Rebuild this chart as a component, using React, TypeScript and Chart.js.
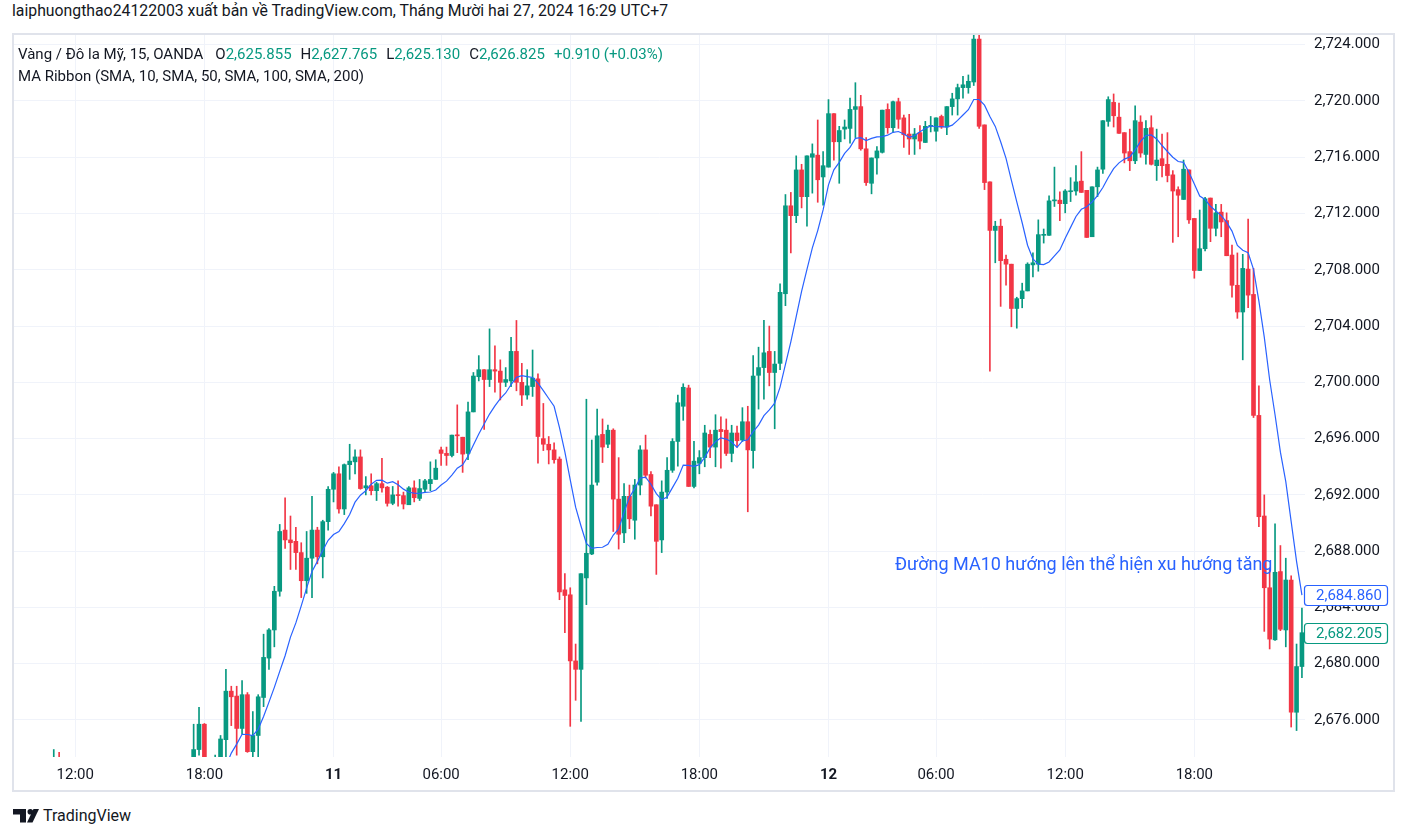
import React, { useEffect, useRef } from 'react';
import { Chart, registerables } from 'chart.js';

Chart.register(...registerables);

// XAU/USD 15-minute candles, each row: [open, high, low, close]
// Dec 10, 09:15 -> 23:45
const DEC10_BARS: number[][] = [
  [2666.0, 2667.5, 2665.2, 2667.0],
  [2667.0, 2668.8, 2666.4, 2668.2],
  [2668.2, 2669.5, 2667.3, 2667.8],
  [2667.8, 2670.2, 2667.0, 2669.6],
  [2669.6, 2671.0, 2668.8, 2670.3],
  [2670.3, 2671.8, 2669.5, 2671.0],
  [2671.0, 2672.6, 2670.2, 2671.4],
  [2671.4, 2673.9, 2670.8, 2672.6],
  [2672.6, 2673.7, 2670.6, 2671.2],
  [2671.2, 2672.4, 2669.8, 2670.2],
  [2670.2, 2671.1, 2668.9, 2669.5],
  [2669.5, 2670.8, 2668.2, 2670.1],
  [2670.1, 2671.3, 2669.0, 2669.4],
  [2669.4, 2670.0, 2667.6, 2668.3],
  [2668.3, 2669.4, 2667.2, 2668.9],
  [2668.9, 2670.2, 2668.0, 2669.6],
  [2669.6, 2670.9, 2668.7, 2669.0],
  [2669.0, 2669.8, 2667.5, 2667.9],
  [2667.9, 2668.8, 2666.6, 2667.2],
  [2667.2, 2668.5, 2666.0, 2668.0],
  [2668.0, 2669.3, 2667.1, 2668.6],
  [2668.6, 2669.9, 2667.8, 2669.2],
  [2669.2, 2670.4, 2668.1, 2668.5],
  [2668.5, 2669.6, 2667.0, 2667.6],
  [2667.6, 2668.7, 2666.5, 2668.1],
  [2668.1, 2669.8, 2667.4, 2669.3],
  [2669.3, 2670.6, 2668.4, 2669.9],
  [2669.9, 2671.2, 2668.9, 2670.4],
  [2670.4, 2671.6, 2669.3, 2669.8],
  [2669.8, 2670.9, 2668.6, 2669.1],
  [2669.1, 2670.2, 2667.9, 2668.6],
  [2668.6, 2669.8, 2668.1, 2669.0],
  [2669.0, 2671.2, 2668.7, 2670.8],
  [2670.8, 2675.7, 2670.5, 2673.9],
  [2673.9, 2676.9, 2673.5, 2675.7],
  [2675.7, 2675.75, 2672.6, 2673.0],
  [2673.0, 2673.3, 2671.2, 2671.5],
  [2671.5, 2673.5, 2671.0, 2672.2],
  [2672.2, 2674.9, 2672.0, 2674.65],
  [2674.6, 2679.6, 2673.0, 2678.05],
  [2678.05, 2678.4, 2675.6, 2677.65],
  [2677.7, 2678.4, 2673.5, 2675.4],
  [2675.4, 2678.8, 2675.0, 2677.8],
  [2677.8, 2677.95, 2673.7, 2673.75],
  [2673.75, 2676.6, 2673.1, 2674.9],
  [2674.9, 2677.8, 2673.2, 2677.65],
  [2677.6, 2682.1, 2676.95, 2680.45],
  [2680.4, 2682.5, 2679.6, 2682.4],
  [2682.4, 2685.5, 2681.2, 2685.15],
  [2685.15, 2689.9, 2684.8, 2689.4],
  [2689.5, 2691.8, 2688.2, 2688.8],
  [2688.8, 2690.5, 2686.7, 2688.6],
  [2688.7, 2689.7, 2686.7, 2687.9],
  [2687.9, 2688.6, 2684.7, 2685.9],
  [2685.9, 2689.4, 2685.0, 2687.5],
  [2687.5, 2691.9, 2684.7, 2689.5],
  [2689.5, 2689.7, 2687.1, 2687.6],
  [2687.6, 2690.2, 2686.1, 2690.1],
  [2690.1, 2692.6, 2689.5, 2692.4],
];

// Dec 11, 00:00 -> 04:45, 06:00 -> 23:45
const DEC11_BARS: number[][] = [
  [2692.4, 2693.6, 2691.5, 2693.5],
  [2693.5, 2694.0, 2690.7, 2691.0],
  [2691.0, 2694.2, 2690.6, 2694.15],
  [2694.15, 2695.6, 2693.1, 2694.4],
  [2694.35, 2695.2, 2693.5, 2694.7],
  [2694.7, 2695.2, 2692.4, 2692.45],
  [2692.5, 2693.3, 2692.0, 2692.65],
  [2692.65, 2693.5, 2692.0, 2692.3],
  [2692.3, 2692.9, 2691.6, 2692.8],
  [2692.8, 2694.6, 2692.2, 2692.5],
  [2692.55, 2692.6, 2691.2, 2691.4],
  [2691.4, 2692.6, 2691.3, 2692.0],
  [2692.0, 2693.0, 2691.2, 2691.95],
  [2691.95, 2692.2, 2691.0, 2691.35],
  [2691.3, 2692.6, 2691.3, 2692.5],
  [2692.5, 2693.0, 2691.5, 2691.8],
  [2691.75, 2693.1, 2691.6, 2692.45],
  [2692.4, 2693.1, 2692.2, 2693.0],
  [2692.8, 2694.35, 2692.3, 2693.1],
  [2693.1, 2694.5, 2693.1, 2693.9],
  [2695.2, 2695.4, 2694.1, 2694.95],
  [2694.95, 2695.4, 2694.1, 2694.8],
  [2694.8, 2696.25, 2694.7, 2696.25],
  [2696.25, 2698.4, 2695.0, 2696.2],
  [2696.1, 2696.1, 2693.6, 2694.9],
  [2694.95, 2698.6, 2694.5, 2697.9],
  [2697.9, 2700.7, 2697.9, 2700.45],
  [2700.4, 2701.9, 2700.1, 2700.9],
  [2700.9, 2700.9, 2696.65, 2700.2],
  [2700.2, 2703.8, 2699.7, 2700.9],
  [2700.9, 2702.6, 2699.3, 2700.8],
  [2700.8, 2701.6, 2698.75, 2700.0],
  [2700.0, 2701.05, 2699.7, 2700.2],
  [2700.1, 2703.2, 2699.7, 2702.2],
  [2702.2, 2704.4, 2699.4, 2700.0],
  [2700.0, 2701.35, 2698.35, 2699.1],
  [2699.1, 2700.9, 2698.8, 2699.75],
  [2699.7, 2702.3, 2699.0, 2700.3],
  [2700.25, 2700.6, 2694.25, 2696.15],
  [2696.0, 2698.5, 2695.15, 2695.6],
  [2695.6, 2696.15, 2694.2, 2695.2],
  [2695.2, 2695.7, 2694.25, 2694.5],
  [2694.55, 2694.7, 2684.55, 2685.1],
  [2685.25, 2686.4, 2682.2, 2684.85],
  [2684.9, 2685.4, 2675.55, 2680.2],
  [2680.2, 2681.4, 2677.4, 2679.6],
  [2679.6, 2686.4, 2675.9, 2686.4],
  [2686.1, 2698.8, 2684.2, 2687.85],
  [2687.8, 2695.9, 2687.75, 2692.7],
  [2692.9, 2698.1, 2692.7, 2696.2],
  [2696.3, 2697.4, 2694.3, 2695.4],
  [2695.6, 2696.97, 2695.35, 2696.6],
  [2696.6, 2696.7, 2689.4, 2691.7],
  [2691.7, 2694.65, 2688.15, 2689.2],
  [2689.3, 2692.8, 2688.6, 2691.9],
  [2691.9, 2692.7, 2689.6, 2690.3],
  [2690.2, 2693.1, 2688.85, 2692.7],
  [2692.7, 2695.5, 2692.0, 2695.2],
  [2695.2, 2696.25, 2693.2, 2693.4],
  [2693.45, 2693.65, 2690.5, 2691.2],
  [2691.3, 2691.3, 2686.35, 2688.7],
  [2688.8, 2693.0, 2687.9, 2692.2],
  [2692.2, 2694.65, 2691.75, 2693.75],
  [2693.75, 2696.0, 2693.6, 2695.8],
  [2695.8, 2699.1, 2694.05, 2698.55],
  [2698.3, 2699.9, 2697.3, 2699.65],
  [2699.6, 2699.8, 2692.6, 2692.6],
  [2692.6, 2695.8, 2692.5, 2694.4],
  [2694.25, 2695.15, 2693.5, 2694.65],
  [2694.65, 2696.95, 2694.0, 2696.4],
  [2696.3, 2696.6, 2694.65, 2695.4],
  [2695.4, 2697.7, 2694.0, 2696.6],
  [2696.65, 2697.55, 2693.9, 2696.5],
  [2696.6, 2697.4, 2694.8, 2694.95],
  [2694.95, 2696.95, 2694.35, 2696.4],
  [2696.4, 2696.9, 2695.4, 2695.85],
  [2695.9, 2698.2, 2695.8, 2697.2],
  [2697.2, 2698.3, 2690.8, 2695.2],
  [2695.15, 2701.9, 2693.9, 2700.45],
  [2700.5, 2702.5, 2698.1, 2701.05],
  [2701.05, 2704.4, 2698.8, 2702.1],
  [2702.2, 2704.0, 2699.75, 2700.7],
  [2700.7, 2702.2, 2696.7, 2701.3],
  [2701.35, 2707.0, 2700.9, 2706.4],
  [2706.3, 2713.35, 2705.45, 2712.55],
  [2712.55, 2713.5, 2709.2, 2711.85],
  [2711.85, 2716.1, 2711.35, 2715.1],
  [2715.1, 2715.5, 2712.4, 2713.2],
  [2713.2, 2716.1, 2711.1, 2716.1],
  [2716.0, 2716.95, 2713.45, 2716.25],
  [2716.15, 2718.65, 2712.8, 2714.4],
  [2714.6, 2716.4, 2712.6, 2715.4],
];

// Dec 12, 00:00 -> 04:45, 06:00 -> 23:00
const DEC12_BARS: number[][] = [
  [2715.3, 2720.1, 2715.3, 2719.1],
  [2719.1, 2719.1, 2715.8, 2717.1],
  [2717.1, 2718.2, 2714.15, 2717.9],
  [2718.0, 2718.65, 2717.3, 2718.15],
  [2718.05, 2720.2, 2717.0, 2719.4],
  [2719.4, 2721.3, 2717.4, 2719.6],
  [2719.6, 2720.4, 2716.5, 2716.6],
  [2716.6, 2717.4, 2714.0, 2714.2],
  [2714.15, 2715.95, 2713.4, 2715.95],
  [2715.95, 2716.75, 2714.8, 2716.45],
  [2716.35, 2719.35, 2716.3, 2719.35],
  [2719.4, 2719.8, 2717.7, 2718.1],
  [2718.1, 2720.0, 2717.8, 2719.95],
  [2719.95, 2720.2, 2718.05, 2718.7],
  [2718.8, 2719.0, 2716.7, 2717.6],
  [2717.65, 2719.05, 2716.2, 2717.3],
  [2717.3, 2718.05, 2716.2, 2717.65],
  [2717.75, 2718.25, 2716.6, 2717.15],
  [2717.05, 2718.55, 2717.05, 2718.2],
  [2718.2, 2718.9, 2717.8, 2718.25],
  [2717.85, 2718.8, 2717.15, 2718.8],
  [2718.9, 2719.0, 2718.05, 2718.15],
  [2718.15, 2719.6, 2717.6, 2719.6],
  [2719.6, 2720.55, 2719.0, 2720.15],
  [2720.15, 2721.2, 2719.0, 2720.95],
  [2720.95, 2721.75, 2720.2, 2721.15],
  [2720.95, 2721.85, 2720.55, 2721.4],
  [2721.35, 2724.7, 2721.1, 2724.4],
  [2724.4, 2724.8, 2718.05, 2718.2],
  [2718.3, 2718.3, 2713.7, 2714.2],
  [2714.25, 2714.25, 2700.8, 2710.8],
  [2710.8, 2711.45, 2708.5, 2711.1],
  [2711.1, 2711.6, 2705.4, 2708.65],
  [2708.75, 2709.05, 2706.9, 2708.4],
  [2708.4, 2708.4, 2703.95, 2705.25],
  [2705.25, 2706.05, 2703.85, 2705.95],
  [2705.95, 2707.05, 2705.3, 2706.5],
  [2706.5, 2708.5, 2706.5, 2708.4],
  [2708.35, 2709.2, 2707.5, 2708.5],
  [2708.4, 2711.55, 2707.9, 2710.5],
  [2710.45, 2710.9, 2709.9, 2710.5],
  [2710.45, 2713.25, 2710.45, 2712.9],
  [2712.9, 2715.3, 2712.5, 2712.95],
  [2712.95, 2713.55, 2711.5, 2712.7],
  [2712.7, 2713.7, 2712.05, 2713.6],
  [2713.55, 2714.55, 2712.85, 2713.6],
  [2713.6, 2715.4, 2713.3, 2714.25],
  [2714.3, 2716.4, 2713.5, 2713.5],
  [2713.65, 2713.65, 2710.3, 2710.3],
  [2710.35, 2713.9, 2710.35, 2713.9],
  [2713.9, 2715.3, 2713.2, 2715.1],
  [2715.15, 2718.6, 2714.85, 2718.6],
  [2718.55, 2720.3, 2718.2, 2720.1],
  [2719.9, 2720.5, 2718.15, 2718.95],
  [2718.85, 2719.85, 2717.7, 2717.7],
  [2717.75, 2717.75, 2715.6, 2716.3],
  [2716.4, 2718.0, 2715.05, 2715.75],
  [2715.75, 2719.65, 2715.55, 2718.6],
  [2718.5, 2718.95, 2716.0, 2716.3],
  [2716.2, 2718.6, 2715.5, 2718.05],
  [2718.1, 2718.95, 2715.45, 2715.5],
  [2715.4, 2718.0, 2714.35, 2715.8],
  [2715.9, 2717.65, 2714.6, 2715.4],
  [2715.5, 2717.75, 2714.25, 2714.7],
  [2714.75, 2715.05, 2709.95, 2713.6],
  [2713.7, 2713.9, 2710.35, 2713.3],
  [2713.0, 2715.8, 2713.0, 2715.15],
  [2715.1, 2715.1, 2711.3, 2711.55],
  [2711.65, 2711.65, 2707.4, 2707.95],
  [2707.95, 2712.25, 2707.95, 2709.5],
  [2709.5, 2713.15, 2709.35, 2713.05],
  [2713.1, 2713.1, 2710.0, 2710.95],
  [2710.95, 2712.65, 2710.4, 2712.05],
  [2712.1, 2712.65, 2710.35, 2711.4],
  [2711.5, 2712.05, 2709.0, 2709.0],
  [2709.05, 2709.75, 2706.05, 2706.9],
  [2706.9, 2709.2, 2704.55, 2705.0],
  [2705.0, 2709.1, 2701.6, 2708.1],
  [2708.05, 2711.6, 2705.3, 2706.2],
  [2706.25, 2708.1, 2697.5, 2697.65],
  [2697.65, 2699.75, 2689.75, 2690.45],
  [2690.5, 2692.0, 2682.3, 2685.4],
  [2685.4, 2686.8, 2681.05, 2681.75],
  [2681.7, 2689.95, 2681.65, 2686.5],
  [2686.55, 2688.4, 2682.35, 2682.45],
  [2682.4, 2687.5, 2681.2, 2685.95],
  [2685.95, 2686.25, 2675.5, 2676.55],
  [2676.55, 2681.4, 2675.25, 2679.8],
  [2679.8, 2683.95, 2679.0, 2682.205],
];

// x-axis tick labels and the bar index they sit on
const TICK_INDEX = [11, 35, 59, 79, 103, 127, 151, 171, 195, 219];
const TICK_LABELS = ['12:00', '18:00', '11', '06:00', '12:00', '18:00', '12', '06:00', '12:00', '18:00'];
const DAY_LABELS = ['11', '12'];

// y-axis
const Y_TICKS = [2676, 2680, 2684, 2688, 2692, 2696, 2700, 2704, 2708, 2712, 2716, 2720, 2724];
const Y_MIN = 2673.37;
const Y_MAX = 2724.69;
const X_MIN = -0.39;
const X_MAX = 239.57;

const MA_PERIOD = 10;
const MA_LAST = 2684.86;

// legend texts
const SYMBOL_TITLE = 'Vàng / Đô la Mỹ, 15, OANDA';
const LEGEND_KEYS = ['O', 'H', 'L', 'C'];
const LEGEND_VALUES = ['2,625.855', '2,627.765', '2,625.130', '2,626.825'];
const LEGEND_CHANGE = '+0.910 (+0.03%)';
const INDICATOR_TITLE = 'MA Ribbon (SMA, 10, SMA, 50, SMA, 100, SMA, 200)';
const HEADER = 'laiphuongthao24122003 xuất bản về TradingView.com, Tháng Mười hai 27, 2024 16:29 UTC+7';
const NOTE = 'Đường MA10 hướng lên thể hiện xu hướng tăng';

const UP = '#089981';
const DOWN = '#F23645';
const BLUE = '#2962FF';
const TEXT = '#131722';
const GRID = '#F0F3FA';
const FONT = 'Roboto, "Noto Sans", "DejaVu Sans", sans-serif';

const BARS = [...DEC10_BARS, ...DEC11_BARS, ...DEC12_BARS];
const CLOSES = BARS.map((b) => b[3]);

const fmtPrice = (v: number) =>
  v.toLocaleString('en-US', { minimumFractionDigits: 3, maximumFractionDigits: 3 });

function buildMA(): { x: number; y: number }[] {
  const out: { x: number; y: number }[] = [];
  for (let i = MA_PERIOD - 1; i < CLOSES.length; i++) {
    let s = 0;
    for (let k = i - MA_PERIOD + 1; k <= i; k++) s += CLOSES[k];
    out.push({ x: i, y: s / MA_PERIOD });
  }
  return out;
}

const PRICE_TAGS = [
  { value: MA_LAST, color: BLUE },
  { value: CLOSES[CLOSES.length - 1], color: UP },
];

const priceTagPlugin = {
  id: 'priceTags',
  afterDraw(chart: any) {
    const { ctx, chartArea, scales } = chart;
    const y = scales.y;
    PRICE_TAGS.forEach((tag) => {
      const py = Math.round(y.getPixelForValue(tag.value));
      const x = Math.round(chartArea.right) - 0.5;
      const w = 83;
      const h = 20;
      ctx.save();
      ctx.beginPath();
      ctx.roundRect(x, py - h / 2 + 0.5, w, h, 3);
      ctx.fillStyle = '#ffffff';
      ctx.fill();
      ctx.lineWidth = 1.2;
      ctx.strokeStyle = tag.color;
      ctx.stroke();
      ctx.fillStyle = tag.color;
      ctx.font = `15px ${FONT}`;
      ctx.textBaseline = 'middle';
      ctx.textAlign = 'left';
      ctx.fillText(fmtPrice(tag.value), x + 11.5, py + 1);
      ctx.restore();
    });
  },
};

export default function App() {
  const ref = useRef<HTMLCanvasElement | null>(null);

  useEffect(() => {
    if (!ref.current) return;
    const colors = BARS.map((b) => (b[3] >= b[0] ? UP : DOWN));
    const bodies = BARS.map((b, i) => ({ x: i, y: [Math.min(b[0], b[3]), Math.max(b[0], b[3])] }));
    const wicks = BARS.map((b, i) => ({ x: i, y: [b[2], b[1]] }));
    const chart = new Chart(ref.current, {
      type: 'bar',
      data: {
        datasets: [
          {
            type: 'line',
            data: buildMA(),
            borderColor: BLUE,
            borderWidth: 1.2,
            pointRadius: 0,
            tension: 0,
            order: 0,
          } as any,
          {
            type: 'bar',
            data: bodies as any,
            backgroundColor: colors,
            borderWidth: 0,
            barThickness: 4,
            minBarLength: 1,
            grouped: false,
            order: 1,
          } as any,
          {
            type: 'bar',
            data: wicks as any,
            backgroundColor: colors,
            borderWidth: 0,
            barThickness: 1,
            grouped: false,
            order: 2,
          } as any,
        ],
      },
      options: {
        animation: false,
        responsive: false,
        devicePixelRatio: 1,
        events: [],
        layout: { padding: 0 },
        plugins: { legend: { display: false }, tooltip: { enabled: false } },
        scales: {
          x: {
            type: 'linear',
            min: X_MIN,
            max: X_MAX,
            offset: false,
            grid: { color: GRID, drawTicks: false, offset: false },
            border: { display: false },
            afterBuildTicks: (s: any) => {
              s.ticks = TICK_INDEX.map((v) => ({ value: v }));
            },
            afterFit: (s: any) => {
              s.height = 33;
              s.paddingLeft = 0;
              s.paddingRight = 0;
            },
            ticks: {
              autoSkip: false,
              maxRotation: 0,
              padding: 9,
              color: TEXT,
              font: (c: any) => {
                const idx = c.tick ? TICK_INDEX.indexOf(c.tick.value) : -1;
                const bold = idx >= 0 && DAY_LABELS.includes(TICK_LABELS[idx]);
                return { family: FONT, size: 15, weight: bold ? 'bold' : 'normal' };
              },
              callback: (v: any) => {
                const idx = TICK_INDEX.indexOf(Number(v));
                return idx >= 0 ? TICK_LABELS[idx] : null;
              },
            },
          },
          y: {
            position: 'right',
            min: Y_MIN,
            max: Y_MAX,
            grid: { color: GRID, drawTicks: false },
            border: { display: false },
            afterBuildTicks: (s: any) => {
              s.ticks = Y_TICKS.map((v) => ({ value: v }));
            },
            afterFit: (s: any) => {
              s.width = 87;
              s.paddingTop = 0;
              s.paddingBottom = 0;
            },
            ticks: {
              padding: 9,
              color: TEXT,
              font: { family: FONT, size: 15 },
              callback: (v: any) => fmtPrice(Number(v)),
            },
          },
        },
      } as any,
      plugins: [priceTagPlugin],
    });
    return () => chart.destroy();
  }, []);

  return (
    <div
      style={{
        position: 'fixed',
        left: 0,
        top: 0,
        width: 1406,
        height: 836,
        background: '#ffffff',
        fontFamily: FONT,
        color: TEXT,
        overflow: 'hidden',
      }}
    >
      <div style={{ position: 'absolute', left: 12, top: 3, fontSize: 15.8, lineHeight: '16px', whiteSpace: 'nowrap' }}>
        {HEADER}
      </div>
      <div
        style={{
          position: 'absolute',
          left: 12,
          top: 33,
          width: 1383,
          height: 759,
          border: '2px solid #E0E3EB',
          boxSizing: 'border-box',
        }}
      />
      <canvas
        ref={ref}
        width={1378}
        height={755}
        style={{ position: 'absolute', left: 14, top: 35, width: 1378, height: 755 }}
      />
      <div style={{ position: 'absolute', left: 18, top: 47, fontSize: 15, lineHeight: '15px', whiteSpace: 'nowrap' }}>
        {SYMBOL_TITLE}
        {LEGEND_KEYS.map((k, i) => (
          <span key={k} style={{ marginLeft: i === 0 ? 12 : 9 }}>
            {k}
            <span style={{ color: UP }}>{LEGEND_VALUES[i]}</span>
          </span>
        ))}
        <span style={{ marginLeft: 9, color: UP }}>{LEGEND_CHANGE}</span>
      </div>
      <div style={{ position: 'absolute', left: 18, top: 69, fontSize: 15, lineHeight: '15px', whiteSpace: 'nowrap' }}>
        {INDICATOR_TITLE}
      </div>
      <div
        style={{
          position: 'absolute',
          left: 895,
          top: 555,
          fontSize: 18,
          lineHeight: '18px',
          color: BLUE,
          whiteSpace: 'nowrap',
        }}
      >
        {NOTE}
      </div>
      <div style={{ position: 'absolute', left: 13, top: 808, display: 'flex', alignItems: 'center' }}>
        <svg width="26" height="14" viewBox="0 0 26 14" style={{ display: 'block' }}>
          <polygon points="0,0 13,0 13,13.5 7,13.5 7,5.5 0,5.5" fill={TEXT} />
          <circle cx="17.3" cy="2.8" r="2.8" fill={TEXT} />
          <polygon points="20.5,0 26,0 19.5,13.5 14,13.5" fill={TEXT} />
        </svg>
        <span style={{ marginLeft: 4, fontSize: 16, lineHeight: '16px', color: TEXT }}>TradingView</span>
      </div>
    </div>
  );
}
